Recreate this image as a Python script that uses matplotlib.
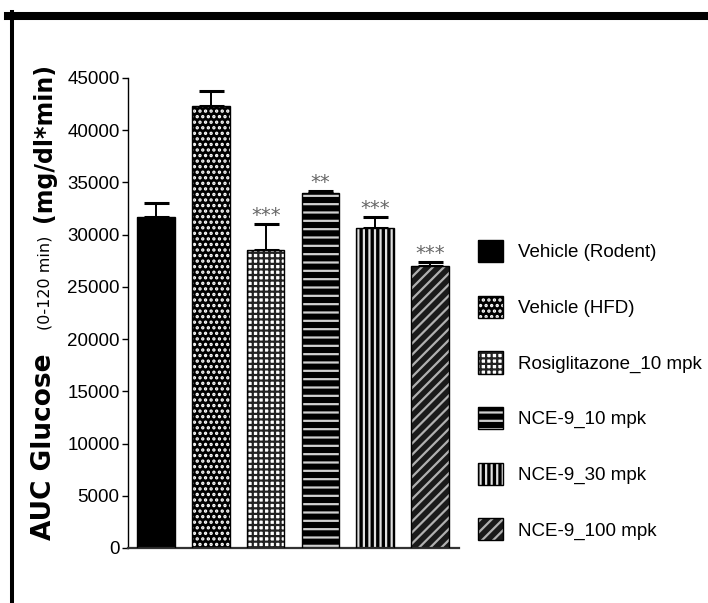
import matplotlib
matplotlib.use('Agg')
import matplotlib.pyplot as plt
from matplotlib.lines import Line2D
from matplotlib.legend_handler import HandlerTuple

# data
groups = ['Vehicle (Rodent)', 'Vehicle (HFD)', 'Rosiglitazone_10 mpk',
          'NCE-9_10 mpk', 'NCE-9_30 mpk', 'NCE-9_100 mpk']
auc = [31700, 42300, 28550, 33950, 30600, 27030]
sem = [1300, 1500, 2450, 220, 1100, 400]
stars = ['', '', '***', '**', '***', '***']
yticks = [0, 5000, 10000, 15000, 20000, 25000, 30000, 35000, 40000, 45000]

# fill / hatch colour / hatch for each group
faces = ['black', 'black', 'white', 'black', 'black', '#1a1a1a']
hatch_cols = ['black', 'white', '#222222', '#d0d0d0', '#e0e0e0', '#b0b0b0']
hatches = [None, '...', '+++', '--', '|||', '///']

plt.rcParams['hatch.linewidth'] = 1.6
font = ['Liberation Sans', 'DejaVu Sans']

fig = plt.figure(figsize=(7.08, 6.03), dpi=100)
ax = fig.add_axes([128/708, 1-548/603, (459-128)/708, (548-78)/603])

x = list(range(len(groups)))
handles = []
for i in x:
    b1 = ax.bar(i, auc[i], width=0.685, color=faces[i], edgecolor=hatch_cols[i],
                hatch=hatches[i], linewidth=0, zorder=2)
    b2 = ax.bar(i, auc[i], width=0.685, fill=False, edgecolor='black',
                linewidth=1.0, zorder=3)
    handles.append((b1.patches[0], b2.patches[0]))

ax.errorbar(x, auc, yerr=[[0]*len(sem), sem], fmt='none', ecolor='black',
            elinewidth=1.4, capsize=9, capthick=2.2, zorder=1)

for i in x:
    if stars[i]:
        ax.annotate(stars[i], (i, auc[i] + sem[i]), xytext=(0, 2),
                    textcoords='offset points', ha='center', va='baseline',
                    fontsize=14, color='#666666', family='DejaVu Sans')

ax.set_xlim(-0.515, 5.53)
ax.set_ylim(0, 45000)
ax.set_yticks(yticks)
ax.set_yticklabels([str(t) for t in yticks], family=font, fontsize=13.5)
ax.set_xticks([])
ax.tick_params(axis='y', length=4, width=1, pad=2, direction='out')
for s in ['top', 'right']:
    ax.spines[s].set_visible(False)
ax.spines['left'].set_linewidth(1)
ax.spines['bottom'].set_linewidth(1.6)
ax.spines['bottom'].set_color('#333333')

leg = fig.legend(handles, groups, handler_map={tuple: HandlerTuple(ndivide=1, pad=0)},
                 loc='upper left', bbox_to_anchor=(478/708, 1-240/603),
                 frameon=False, borderpad=0, borderaxespad=0,
                 handlelength=1.33, handleheight=1.45, handletextpad=0.8,
                 labelspacing=1.78, prop={'family': font, 'size': 13.5})

# y axis title in three pieces
fig.text(44/708, 1-447/603, 'AUC Glucose', rotation=90, ha='center', va='center',
         fontsize=19, fontweight='bold', family='DejaVu Sans')
fig.text(45/708, 1-283/603, '(0-120 min)', rotation=90, ha='center', va='center',
         fontsize=11.5, family='DejaVu Sans')
fig.text(44/708, 1-143/603, '(mg/dl*min)', rotation=90, ha='center', va='center',
         fontsize=17, fontweight='bold', family='DejaVu Sans')

# outer frame (top and left edges)
fig.add_artist(Line2D([8/708, 1], [1-16/603, 1-16/603], transform=fig.transFigure,
                      color='black', linewidth=5.8))
fig.add_artist(Line2D([12/708, 12/708], [0, 1-12/603], transform=fig.transFigure,
                      color='black', linewidth=2.9))

fig.savefig('out.png', dpi=100)
